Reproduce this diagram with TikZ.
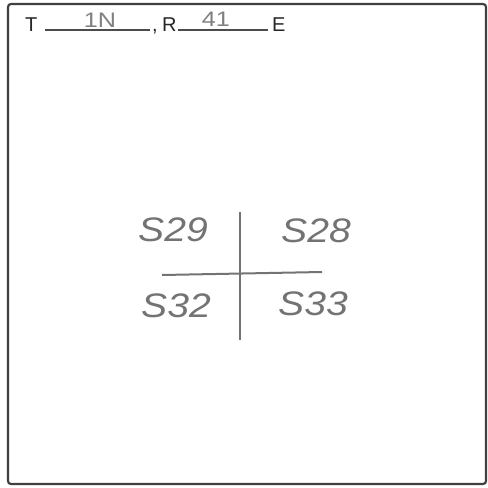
\documentclass[tikz,border=0pt]{standalone}
\usepackage{fontspec}
\setmainfont{Liberation Sans}
\begin{document}
\begin{tikzpicture}[x=1pt,y=-1pt,
  frame/.style={draw=black!75,line width=2.2pt,rounded corners=3pt},
  pen/.style={draw=black!55,line width=2pt},
  hand/.style={text=black!55,font=\fontsize{34}{34}\selectfont\itshape,inner sep=0pt,xscale=1.15},
  small/.style={text=black!50,font=\fontsize{21}{21}\selectfont,inner sep=0pt,xscale=1.2},
  print/.style={text=black!85,font=\fontsize{20}{20}\selectfont,inner sep=0pt,anchor=base west},
  rule/.style={draw=black!70,line width=1.5pt}]
\useasboundingbox (0,0) rectangle (488,488);
\draw[frame] (8,4) rectangle (486,484);
% header
\node[print] (T) at (25,31) {T};
\coordinate (u1a) at (45,30); \coordinate (u1b) at (150,30);
\draw[rule] (u1a) -- (u1b);
\node[small] (tn) at (100,20) {1N};
\node[print] (comma) at (152,31) {,};
\node[print] (R) at (162,31) {R};
\coordinate (u2a) at (178,30); \coordinate (u2b) at (268,30);
\draw[rule] (u2a) -- (u2b);
\node[small] (rn) at (216,19) {41};
\node[print] (E) at (272,31) {E};
% cross
\coordinate (vt) at (240,212); \coordinate (vb) at (240,340);
\coordinate (hl) at (162,275); \coordinate (hr) at (322,272);
\draw[pen] (vt) -- (vb);
\draw[pen] (hl) -- (hr);
\node[hand] (s29) at (173,230) {S29};
\node[hand] (s28) at (316,231) {S28};
\node[hand] (s32) at (176,306) {S32};
\node[hand] (s33) at (313,304) {S33};
\end{tikzpicture}
\end{document}
